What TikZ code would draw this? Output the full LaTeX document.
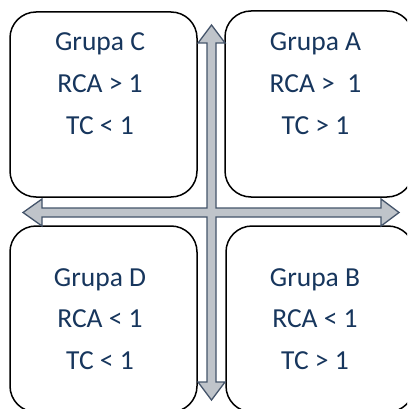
\documentclass[tikz,border=0pt]{standalone}
\usepackage{fontspec}
\setmainfont{Carlito}
\definecolor{txtc}{HTML}{17365D}
\definecolor{arrfill}{HTML}{BFC4CA}
\definecolor{arrline}{HTML}{44546A}
\begin{document}
\begin{tikzpicture}[x=1pt,y=-1pt,
  quad/.style={draw=black,line width=1.5pt,fill=white,rounded corners=26pt},
  lbl/.style={text=txtc,align=center,inner sep=0pt,font=\fontsize{27.5}{41.5}\selectfont}]
\useasboundingbox (0,0) rectangle (407,409);
\clip (0,0) rectangle (407,409);
% boxes
\draw[quad] (10,12) rectangle (197,197);
\draw[quad] (225,11) rectangle (413,197);
\draw[quad] (10,226) rectangle (197,412);
\draw[quad] (226,226) rectangle (414,412);
% labels (anchor = baseline of last line)
\node[lbl,anchor=base] (c) at (100,134) {Grupa C\\RCA > 1\\TC < 1};
\node[lbl,anchor=base] (a) at (315.5,134) {Grupa A\\RCA >\ \ 1\\TC > 1};
\node[lbl,anchor=base] (d) at (100,369) {Grupa D\\RCA < 1\\TC < 1};
\node[lbl,anchor=base] (b) at (315,369) {Grupa B\\RCA < 1\\TC > 1};
% cross arrow
\def\cx{211.5}\def\cy{212.5}
\draw[fill=arrfill,draw=arrline,line width=1.3pt,line join=miter]
  (\cx,25) -- (\cx+13.5,43) -- (\cx+4.5,43) -- (\cx+4.5,\cy-4.5)
  -- (381,\cy-4.5) -- (381,\cy-13.5) -- (399,\cy) -- (381,\cy+13.5) -- (381,\cy+4.5)
  -- (\cx+4.5,\cy+4.5) -- (\cx+4.5,382) -- (\cx+13.5,382) -- (\cx,400)
  -- (\cx-13.5,382) -- (\cx-4.5,382) -- (\cx-4.5,\cy+4.5)
  -- (42,\cy+4.5) -- (42,\cy+13.5) -- (23,\cy) -- (42,\cy-13.5) -- (42,\cy-4.5)
  -- (\cx-4.5,\cy-4.5) -- (\cx-4.5,43) -- (\cx-13.5,43) -- cycle;
\end{tikzpicture}
\end{document}
